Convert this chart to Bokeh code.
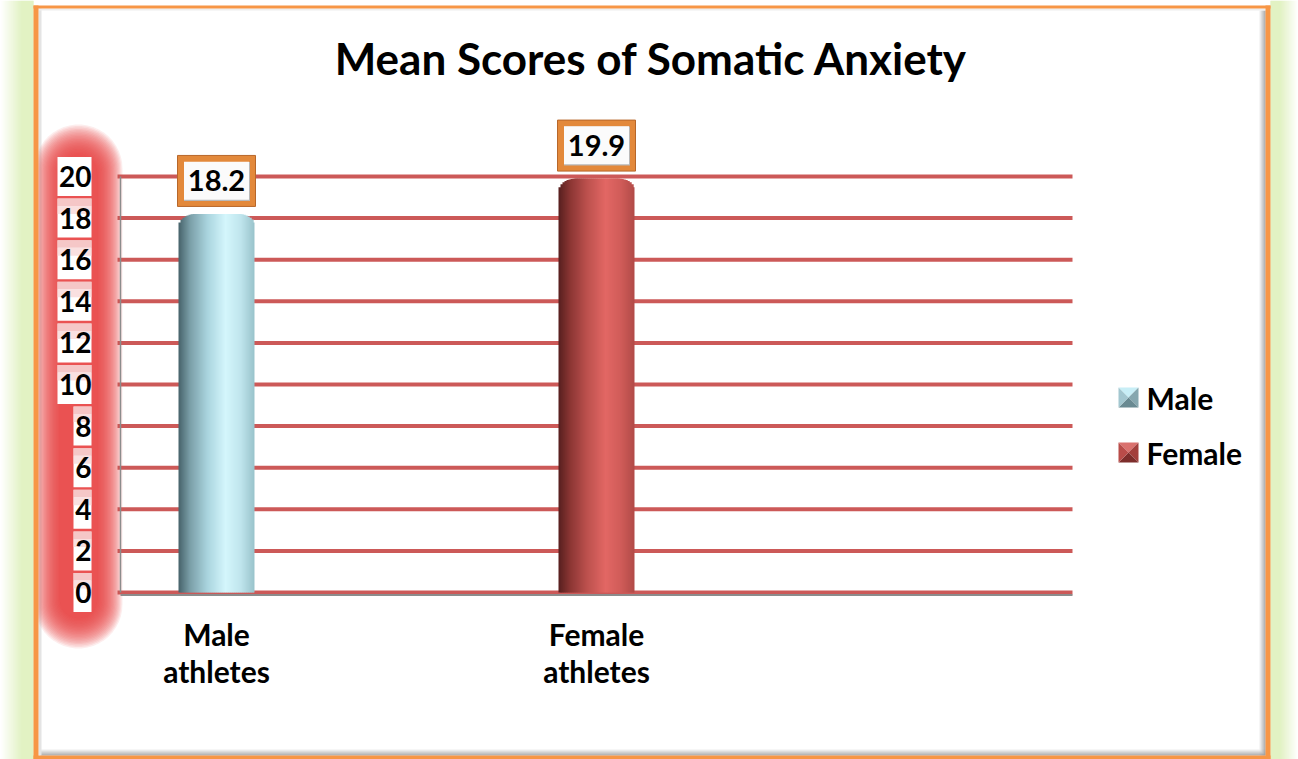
import numpy as np
from bokeh.plotting import figure
from bokeh.models import Range1d
from bokeh.core.properties import value
from bokeh.embed import file_html
from bokeh.resources import INLINE

# ---------------- data ----------------
title = "Mean Scores of Somatic Anxiety"
categories = ["Male athletes", "Female athletes"]
series = ["Male", "Female"]
values = [18.2, 19.9]
y_ticks = [0, 2, 4, 6, 8, 10, 12, 14, 16, 18, 20]
tick_labels = [str(t) for t in y_ticks]

# ---------------- layout helpers (pixel -> data) ----------------
W, H = 1298, 759
X0PX, Y0PX = 216.0, 592.0     # pixel of category 0 / value 0
PX_X, PX_Y = 380.0, 20.8      # pixels per category step / per unit


def X(px):
    return (np.asarray(px, dtype=float) - X0PX) / PX_X


def Y(py):
    return (Y0PX - np.asarray(py, dtype=float)) / PX_Y


def DX(px):
    return px / PX_X


def DY(py):
    return py / PX_Y


def hex2rgb(h):
    h = h.lstrip("#")
    return tuple(int(h[i:i + 2], 16) for i in (0, 2, 4))


def interp(stops, t):
    for (p0, c0), (p1, c1) in zip(stops[:-1], stops[1:]):
        if p0 <= t <= p1:
            f = 0 if p1 == p0 else (t - p0) / (p1 - p0)
            a, b = hex2rgb(c0), hex2rgb(c1)
            return "#%02x%02x%02x" % tuple(int(round(a[k] + (b[k] - a[k]) * f)) for k in range(3))
    return stops[-1][1]


FONT = value("Lato")

p = figure(width=W, height=H,
           x_range=Range1d(float(X(0)), float(X(W))), y_range=Range1d(float(Y(H)), float(Y(0))),
           x_axis_type=None, y_axis_type=None,
           toolbar_location=None, output_backend="svg", min_border=0)
p.outline_line_color = None
p.background_fill_color = "white"
p.border_fill_color = "white"

# ---------------- outer green strips ----------------
green = [(0.0, "#ffffff"), (0.65, "#d9eeb2"), (1.0, "#d9eeb2")]
lx = np.arange(0, 33)
p.quad(left=X(lx), right=X(lx + 1.05), top=float(Y(0)), bottom=float(Y(H)),
       fill_color=[interp(green, a / 32) for a in lx], line_color=None)
rx = np.arange(1270, 1298)
p.quad(left=X(rx), right=X(rx + 1.05), top=float(Y(0)), bottom=float(Y(H)),
       fill_color=[interp(green, (1297 - a) / 27) for a in rx], line_color=None)

# inner shadows
sh = [(0.0, "#ffffff"), (1.0, "#9a9a9a")]
for k in range(7):
    c = interp(sh, k / 6)
    p.quad(left=float(X(1258 + k)), right=float(X(1259.05 + k)), top=float(Y(10)), bottom=float(Y(755)),
           fill_color=c, line_color=None)
    p.quad(left=float(X(40)), right=float(X(1265)), top=float(Y(748 + k)), bottom=float(Y(749.05 + k)),
           fill_color=c, line_color=None)
p.quad(left=float(X(38)), right=float(X(41)), top=float(Y(8)), bottom=float(Y(755)),
       fill_color="#e4e4e4", line_color=None)
p.quad(left=float(X(38)), right=float(X(1265)), top=float(Y(8)), bottom=float(Y(10)),
       fill_color="#eeeeee", line_color=None)


# ---------------- red glow behind y tick labels ----------------
def stadium(l, r, t, b, ry):
    cx = (l + r) / 2
    rxx = (r - l) / 2
    a1 = np.linspace(np.pi, 0, 24)
    a2 = np.linspace(0, -np.pi, 24)
    xs = np.concatenate([cx + rxx * np.cos(a1), cx + rxx * np.cos(a2)])
    ys = np.concatenate([t + ry - ry * np.sin(a1), b - ry - ry * np.sin(a2)])
    return X(xs), Y(ys)


for k in range(22):
    inset = k * 1.2
    gx, gy = stadium(34 + inset, 122 - inset, 124 + inset * 1.2, 648 - inset * 1.2, 44 - inset)
    p.patch(gx, gy, fill_color="#e63b3b", fill_alpha=0.095, line_color=None)

# orange frame
ORANGE = "#f79646"
for l, r, t, b in [(33, 38, 5, H), (1265, 1270, 5, H), (33, 1270, 5, 8), (33, 1270, 755, H)]:
    p.quad(left=float(X(l)), right=float(X(r)), top=float(Y(t)), bottom=float(Y(b)),
           fill_color=ORANGE, line_color=None)

# ---------------- y tick label boxes ----------------
t_arr = np.array(y_ticks, dtype=float)
box_w = [DX(34 if len(s) > 1 else 18) for s in tick_labels]
rgt = float(X(91))
p.quad(left=[rgt - w for w in box_w], right=rgt, top=t_arr + DY(19.5), bottom=t_arr - DY(19.5),
       fill_color="white", line_color=None)
pink = [t for t in y_ticks if t != max(y_ticks)]
pw = [DX(34 if len(str(t)) > 1 else 18) for t in pink]
pa = np.array(pink, dtype=float)
p.quad(left=[rgt - w for w in pw], right=rgt, top=pa + DY(19.5), bottom=pa + DY(12),
       fill_color="#f2b4b4", fill_alpha=0.75, line_color=None)
p.quad(left=[rgt - w for w in pw], right=rgt, top=pa + DY(12), bottom=pa + DY(4),
       fill_color="#f7d6d6", fill_alpha=0.75, line_color=None)
p.text(x=[rgt] * len(y_ticks), y=t_arr, text=tick_labels, text_font=FONT, text_font_style="bold",
       text_font_size="28px", text_align="right", text_baseline="middle", text_color="black")

# ---------------- gridlines and axis ----------------
p.segment(x0=float(X(117)), x1=float(X(1072)), y0=t_arr, y1=t_arr, line_color="#c9504f",
          line_width=4, line_alpha=0.95)
p.segment(x0=float(X(120)), x1=float(X(1072)), y0=-DY(2.5), y1=-DY(2.5), line_color="#8c8c8c", line_width=2)
p.segment(x0=float(X(120)), x1=float(X(120)), y0=0, y1=max(y_ticks), line_color="#8c8c8c", line_width=1.5)

# ---------------- cylinder bars ----------------
bar_px = 76
n = 38
dxp = bar_px / n
stops = {
    "Male": [(0.0, "#46626a"), (0.15, "#7a9ea7"), (0.38, "#a9d4de"), (0.62, "#d4f6fc"),
             (0.82, "#bfe5ed"), (1.0, "#98c2cb")],
    "Female": [(0.0, "#571f1e"), (0.15, "#8a3533"), (0.38, "#bd514e"), (0.62, "#e26764"),
               (0.82, "#d05c59"), (1.0, "#b14a47")],
}
rxp, ryp = 17.0, 13.0
for i, (s, v) in enumerate(zip(series, values)):
    lefts, rights, tops, cols = [], [], [], []
    for k in range(n):
        d = (k + 0.5) * dxp
        lefts.append(i + DX(-bar_px / 2 + k * dxp))
        rights.append(i + DX(-bar_px / 2 + min(bar_px, (k + 1.6) * dxp)))
        dd = min(d, bar_px - d)
        dy = 0.0
        if dd < rxp:
            u = (rxp - dd) / rxp
            dy = ryp * (1 - np.sqrt(max(0.0, 1 - u * u)))
        tops.append(v - DY(dy))
        cols.append(interp(stops[s], d / bar_px))
    p.quad(left=lefts, right=rights, top=tops, bottom=0, fill_color=cols, line_color=None)

# ---------------- data labels ----------------
idx = list(range(len(values)))
lab_y = [v + DY(33) for v in values]
p.rect(x=idx, y=lab_y, width=DX(78), height=DY(51), fill_color="#e3893b", line_color="#b7672a", line_width=1)
p.rect(x=[i + DX(0.5) for i in idx], y=[y - DY(0.5) for y in lab_y], width=DX(66), height=DY(39),
       fill_color="#b8b8b8", line_color=None)
p.rect(x=idx, y=[y + DY(0.3) for y in lab_y], width=DX(65), height=DY(38), fill_color="#fbfbfb",
       line_color=None)
p.text(x=idx, y=lab_y, text=["%.1f" % v for v in values], text_font=FONT, text_font_style="bold",
       text_font_size="29px", text_align="center", text_baseline="middle", text_color="black")

# ---------------- category labels ----------------
l1 = [c.split(" ")[0] for c in categories]
l2 = [c.split(" ")[1] for c in categories]
p.text(x=idx, y=[float(Y(633))] * len(idx), text=l1, text_font=FONT, text_font_style="bold",
       text_font_size="30px", text_align="center", text_baseline="middle", text_color="black")
p.text(x=idx, y=[float(Y(670))] * len(idx), text=l2, text_font=FONT, text_font_style="bold",
       text_font_size="30px", text_align="center", text_baseline="middle", text_color="black")

# ---------------- title ----------------
p.text(x=[float(X(651))], y=[float(Y(57))], text=[title], text_font=FONT, text_font_style="bold",
       text_font_size="44px", text_align="center", text_baseline="middle", text_color="black")

# ---------------- legend ----------------
leg_cols = {
    "Male": ["#c8eef6", "#86a7af", "#6a8a92", "#a3c7d0"],
    "Female": ["#da716e", "#a33f3c", "#7d2d2b", "#b94c49"],
}
leg_y = [397, 452]
for s, cy in zip(series, leg_y):
    cx, h = 1128, 10
    tl, tr, br, bl, c = (cx - h, cy - h), (cx + h, cy - h), (cx + h, cy + h), (cx - h, cy + h), (cx, cy)
    tris = [(tl, tr, c), (tr, br, c), (br, bl, c), (bl, tl, c)]
    p.patches(xs=[list(X([a[0] for a in t])) for t in tris], ys=[list(Y([a[1] for a in t])) for t in tris],
              fill_color=leg_cols[s], line_color=None)
p.text(x=[float(X(1146))] * len(series), y=[float(Y(cy)) for cy in leg_y], text=series, text_font=FONT,
       text_font_style="bold", text_font_size="30px", text_align="left", text_baseline="middle",
       text_color="black")

open("out.html", "w").write(file_html(p, INLINE))
